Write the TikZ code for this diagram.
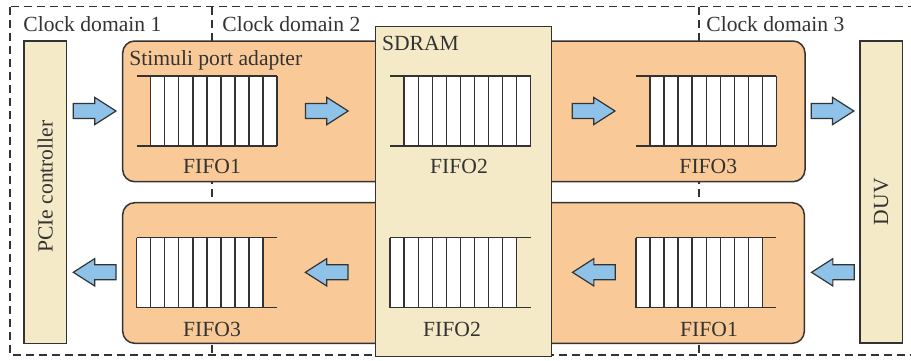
\documentclass[tikz,border=0pt]{standalone}
\usepackage{fontspec}
\setmainfont{Liberation Serif}

\definecolor{adapterorange}{HTML}{F9CA98}
\definecolor{memcream}{HTML}{F5EAC7}
\definecolor{flowblue}{HTML}{8FC2E8}
\definecolor{inkgray}{HTML}{333333}

\tikzset{
    block/.style={draw=inkgray, line width=0.75pt, inner sep=0pt},
    adapter/.style={block, fill=adapterorange, rounded corners=6pt},
    memory/.style={block, fill=memcream},
    lbl/.style={inner sep=0pt, text=inkgray, font=\fontsize{10.8}{13}\selectfont},
    fifoline/.style={draw=inkgray, line width=0.7pt},
    flowarrow/.style={draw=inkgray, line width=0.6pt, fill=flowblue, line join=miter},
    domainline/.style={draw=inkgray, line width=0.55pt, dash pattern=on 4pt off 2.5pt},
    fifo/.pic={
        \fill[white] (-56.16,-35) rectangle (70.2,35);
        \draw[fifoline] (-70.2,-35) -- (70.2,-35) (-70.2,35) -- (70.2,35);
        \foreach \k in {0,...,9}
            \draw[fifoline] (-56.16+\k*14.04,-35) -- ++(0,70);
    },
    fatarrow/.pic={
        \draw[flowarrow] (-21.35,-7.5) -- (0,-7.5) -- (0,-13.65) -- (21.35,0)
            -- (0,13.65) -- (0,7.5) -- (-21.35,7.5) -- cycle;
    }
}

\begin{document}
\begin{tikzpicture}[x=0.5pt,y=-0.5pt]
            \useasboundingbox (0,0) rectangle (911,360);

            % draw the clock domains
            \draw[domainline] (10,6.7) rectangle (914,355);
            \draw[domainline] (212,6.7) -- (212,355);
            \draw[domainline] (699,6.7) -- (699,355);
            \node[lbl, anchor=base west] (cdone) at (23,31.5) {Clock domain 1};
            \node[lbl, anchor=base west] (cdtwo) at (222,31.5) {Clock domain 2};
            \node[lbl, anchor=base west] (cdthree) at (706,31.5) {Clock domain 3};

            % host and device
            \node[memory, minimum width=21.35pt, minimum height=151.15pt] (pcie) at (45.35,192.2) {};
            \node[lbl, rotate=90] (pcielbl) at (45.35,186.7) {PCIe controller};
            \node[memory, minimum width=21.15pt, minimum height=151pt] (duv) at (881.15,192) {};
            \node[lbl, rotate=90] (duvlbl) at (881.15,201.7) {DUV};

            % stimuli port adapter
            \node[adapter, minimum width=341.15pt, minimum height=70.35pt] (adtop) at (463.85,111.35) {};
            \node[adapter, minimum width=340.8pt, minimum height=70.3pt] (adbot) at (463.5,273) {};
            \node[lbl, anchor=base west] (spa) at (129,65.5) {Stimuli port adapter};

            % sdram
            \node[memory, minimum width=87.9pt, minimum height=165pt] (sdram) at (463.6,191.7) {};
            \node[lbl, anchor=base west] (sdramlbl) at (381.7,50) {SDRAM};

            % fifos, upstream
            \pic at (206.85,111) {fifo};
            \pic at (460.35,111) {fifo};
            \pic at (706.2,111) {fifo};
            \node[lbl, anchor=base] (upone) at (212,173.3) {FIFO1};
            \node[lbl, anchor=base] (uptwo) at (459,173.3) {FIFO2};
            \node[lbl, anchor=base] (upthree) at (708.3,173.3) {FIFO3};

            % fifos, downstream
            \pic[xscale=-1] at (206.85,272.7) {fifo};
            \pic[xscale=-1] at (460.35,272.7) {fifo};
            \pic[xscale=-1] at (706.2,272.7) {fifo};
            \node[lbl, anchor=base] (downthree) at (212,336) {FIFO3};
            \node[lbl, anchor=base] (downtwo) at (452,336) {FIFO2};
            \node[lbl, anchor=base] (downone) at (709,336) {FIFO1};

            % data flow
            \pic at (94.65,111) {fatarrow};
            \pic at (326.8,111) {fatarrow};
            \pic at (593.65,111) {fatarrow};
            \pic at (832.5,111) {fatarrow};
            \pic[rotate=180] at (94.65,272.3) {fatarrow};
            \pic[rotate=180] at (326.7,272.3) {fatarrow};
            \pic[rotate=180] at (593.85,272.3) {fatarrow};
            \pic[rotate=180] at (832.85,272.3) {fatarrow};

        \end{tikzpicture}
\end{document}
